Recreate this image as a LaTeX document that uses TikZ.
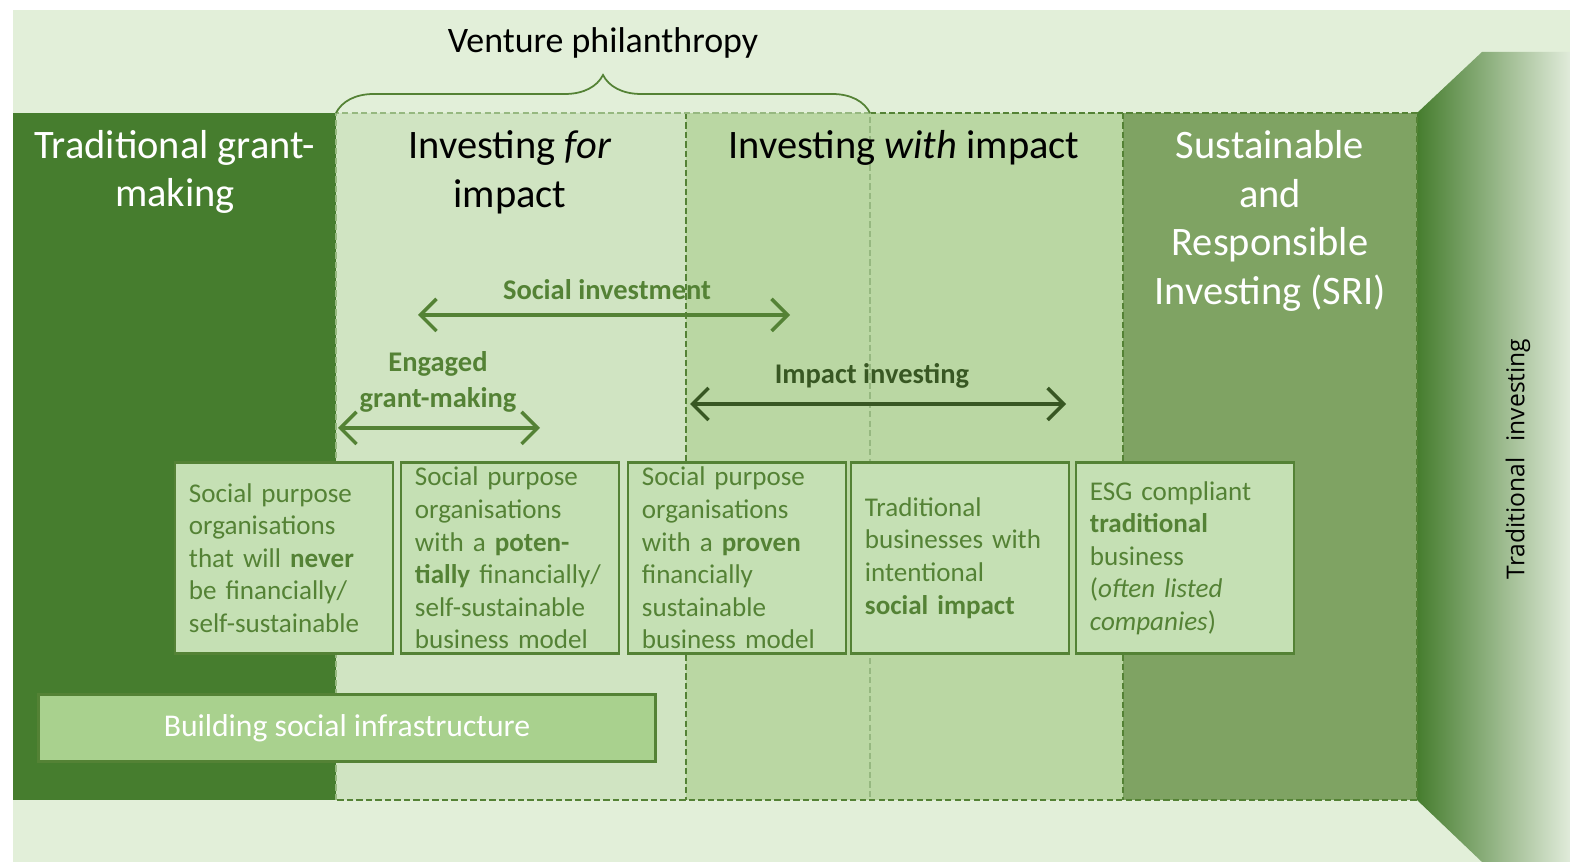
\documentclass[tikz,border=0pt]{standalone}
\usepackage{fontspec}
\setmainfont{Carlito}
\newfontfamily\sidefont{Open Sans}
\usetikzlibrary{arrows.meta,positioning,decorations.pathreplacing}
\definecolor{vpBack}{RGB}{226,239,217}
\definecolor{vpDark}{RGB}{70,125,46}
\definecolor{vpFor}{RGB}{208,228,194}
\definecolor{vpWith}{RGB}{186,215,163}
\definecolor{vpSRI}{RGB}{127,163,99}
\definecolor{vpBox}{RGB}{197,224,180}
\definecolor{vpInfra}{RGB}{169,209,142}
\definecolor{vpLine}{RGB}{84,130,53}
\definecolor{vpDeep}{RGB}{56,87,35}
\definecolor{vpDash}{RGB}{150,184,128}
\definecolor{vpFade}{RGB}{224,235,218}

\begin{document}
\begin{tikzpicture}[
    x=0.01cm, y=-0.01cm,
    font=\fontsize{7.7}{9.25}\selectfont, % Calibri 替代字型
    % 欄位標題樣式
    header/.style={
        align=center,
        inner sep=0pt,
        font=\fontsize{11.5}{13.9}\selectfont
    },
    % 說明方塊樣式
    descbox/.style={
        draw=vpLine,
        line width=0.8pt,
        fill=vpBox,
        text=vpLine,
        align=left,
        text width=1.9cm,
        inner xsep=0.14cm,
        inner ysep=0pt,
        minimum height=1.91cm
    },
    % 範圍標籤樣式
    rangelabel/.style={
        text=vpLine,
        align=center,
        inner sep=0pt,
        font=\fontsize{8.1}{10.3}\selectfont\bfseries
    },
    % 雙向範圍箭頭
    spanarrow/.style={
        <->,
        >={Straight Barb[length=1.6mm, width=3.2mm]},
        draw=vpLine,
        line width=1pt
    },
    % 虛線邊框
    coldash/.style={draw=vpLine, line width=0.5pt, dash pattern=on 1.8pt off 0.9pt},
    vpdash/.style={draw=vpDash, line width=0.4pt, dash pattern=on 1.8pt off 0.9pt}
]

    \useasboundingbox (0,0) rectangle (1570,862);

    % --- 1. 背景與各欄色塊 ---
    \fill[white] (0,0) rectangle (1570,862);
    \fill[vpBack] (13,10) rectangle (1570,862);
    \fill[vpDark] (13,113) rectangle (336,800);
    \fill[vpFor] (336,113) rectangle (686,800);
    \fill[vpWith] (686,113) rectangle (1123,800);
    \fill[vpSRI] (1123,113) rectangle (1417,800);
    % 右側 Traditional investing 漸層牆面
    \shade[left color=vpDark, right color=vpFade]
        (1417,113) -- (1482,52) -- (1570,52) -- (1570,862) -- (1482,862) -- (1417,800) -- cycle;

    % --- 2. 虛線邊框 ---
    \draw[coldash] (870,113) -- (1417,113) -- (1417,800) -- (336,800);
    \draw[coldash] (686,113) -- (686,800);
    \draw[coldash] (1123,113) -- (1123,800);
    \draw[vpdash] (336,800) -- (336,113) -- (870,113) -- (870,800);

    % --- 3. Venture philanthropy 大括號 ---
    \node[font=\fontsize{10.2}{12}\selectfont] (vp) at (603,43) {Venture philanthropy};
    \draw[vpLine, line width=0.5pt, decorate, decoration={brace, amplitude=0.38cm}]
        (336,113) -- (870,113);

    % --- 4. 欄位標題 ---
    \node[header, text=white] (tgm) at (175,172) {Traditional grant-\\making};
    \node[header] (ifi) at (510,172) {Investing \textit{for}\\impact};
    \node[header] (iwi) at (904,148) {Investing \textit{with} impact};
    \node[header, text=white] (sri) at (1270,221) {Sustainable\\and\\Responsible\\Investing (SRI)};
    \node[rotate=90, text=black, font=\sidefont\fontsize{7}{8}\selectfont] (ti) at (1518,459) {Traditional\hspace{0.4em} investing};

    % --- 5. 範圍箭頭 ---
    \node[rangelabel] (si) at (607,290) {Social investment};
    \coordinate (si-l) at (418,315);
    \coordinate (si-r) at (790,315);
    \draw[spanarrow] (si-l) -- (si-r);

    \node[rangelabel] (egm) at (438,382) {Engaged\\grant-making};
    \coordinate (egm-l) at (338,428);
    \coordinate (egm-r) at (540,428);
    \draw[spanarrow] (egm-l) -- (egm-r);

    \node[rangelabel, text=vpDeep] (ii) at (872,376) {Impact investing};
    \coordinate (ii-l) at (690,404);
    \coordinate (ii-r) at (1066,404);
    \draw[spanarrow, draw=vpDeep] (ii-l) -- (ii-r);

    % --- 6. 說明方塊 ---
    \node[descbox] (never) at (284,558) {Social purpose\\organisations\\that will \textbf{never}\\be financially/\\self-sustainable};
    \node[descbox] (potential) at (510,558) {Social purpose\\organisations\\with a \textbf{poten-}\\\textbf{tially} financially/\\self-sustainable\\business model};
    \node[descbox] (proven) at (737,558) {Social purpose\\organisations\\with a \textbf{proven}\\financially\\sustainable\\business model};
    \node[descbox] (intent) at (960,558) {Traditional\\businesses with\\intentional\\\textbf{social impact}};
    \node[descbox] (esg) at (1185,558) {ESG compliant\\\textbf{traditional}\\business\\(\textit{often listed}\\\textit{companies})};

    % 最下方 Building social infrastructure
    \node[draw=vpLine, line width=0.8pt, fill=vpInfra, text=white, minimum width=6.16cm, minimum height=0.67cm,
        font=\fontsize{9}{11}\selectfont] (infra) at (347,728) {Building social infrastructure};

\end{tikzpicture}
\end{document}
